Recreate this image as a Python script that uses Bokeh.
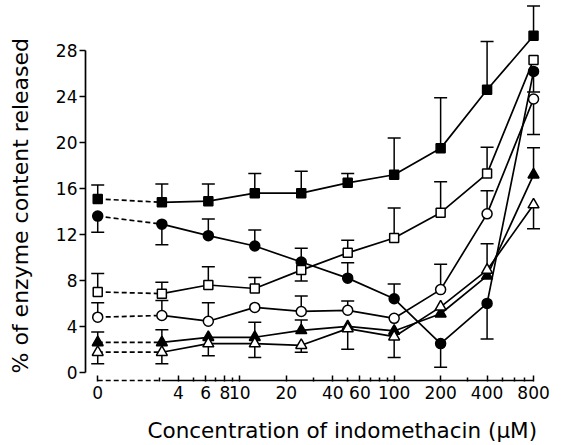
from bokeh.plotting import figure
from bokeh.models import (FixedTicker, ColumnDataSource, Whisker, TeeHead, Title,
                          LinearAxis, LogAxis)
from bokeh.embed import file_html
from bokeh.resources import INLINE

# Concentrations of indomethacin (uM); 0 is drawn on a broken log axis
conc = [0, 3.125, 6.25, 12.5, 25, 50, 100, 200, 400, 800]
ZERO_POS = 1.2  # axis position used for the "0" concentration

x_tick_values = [ZERO_POS, 4, 6, 8, 10, 20, 40, 60, 100, 200, 400, 800]
x_tick_labels = ["0", "4", "6", "8", "10", "20", "40", "60", "100", "200", "400", "800"]
x_minor_ticks = [3, 5, 7, 9, 30, 50, 70, 80, 90, 300, 500, 600, 700]
y_ticks = [0, 4, 8, 12, 16, 20, 24, 28]

x_title = "Concentration of indomethacin (μM)"
y_title = "% of enzyme content released"

# filled squares
sq_filled = [15.1, 14.8, 14.9, 15.6, 15.6, 16.5, 17.2, 19.5, 24.6, 29.3]
sq_filled_up = [1.2, 1.6, 1.5, 1.7, 1.9, 0.8, 3.2, 4.4, 4.2, 2.6]
sq_filled_dn = [0, 0, 0, 0, 0, 0, 0, 0, 0, 0]
# filled circles
ci_filled = [13.6, 12.9, 11.9, 11.0, 9.6, 8.2, 6.4, 2.5, 6.0, 26.2]
ci_filled_up = [0, 0, 1.45, 1.4, 1.2, 1.35, 1.3, 0, 0, 0]
ci_filled_dn = [1.4, 1.8, 0, 0, 0, 0, 0, 2.05, 3.1, 1.8]
# open squares
sq_open = [7.0, 6.85, 7.6, 7.3, 8.9, 10.4, 11.7, 13.9, 17.3, 27.2]
sq_open_up = [1.6, 1.0, 1.6, 0.95, 0, 1.1, 2.6, 2.7, 2.3, 0]
sq_open_dn = [0, 0, 0, 0, 0.95, 0, 0, 0, 0, 0]
# open circles
ci_open = [4.8, 4.95, 4.45, 5.65, 5.3, 5.4, 4.7, 7.2, 13.8, 23.8]
ci_open_up = [1.25, 1.3, 1.6, 0, 1.35, 0.8, 0, 2.2, 2.0, 0]
ci_open_dn = [0, 0, 0, 0, 0, 0, 0, 0, 0, 3.1]
# filled triangles
tr_filled = [2.6, 2.6, 3.05, 3.05, 3.65, 4.0, 3.6, 5.1, 8.4, 17.2]
tr_filled_up = [0.9, 1.1, 0, 1.3, 0.9, 0, 0, 0, 0, 2.35]
tr_filled_dn = [0, 0, 0, 0, 0, 0, 0, 0, 0, 0]
# open triangles
tr_open = [1.75, 1.75, 2.5, 2.5, 2.35, 3.8, 3.1, 5.7, 8.9, 14.6]
tr_open_up = [0, 0, 0, 0, 0, 0, 0, 0, 2.3, 0]
tr_open_dn = [1.0, 1.0, 1.05, 1.2, 0.6, 1.8, 1.8, 0, 0, 2.1]

series = [
    (sq_filled, sq_filled_up, sq_filled_dn, "square", "black", 9),
    (ci_filled, ci_filled_up, ci_filled_dn, "circle", "black", 10),
    (sq_open, sq_open_up, sq_open_dn, "square", "white", 9),
    (ci_open, ci_open_up, ci_open_dn, "circle", "white", 10),
    (tr_filled, tr_filled_up, tr_filled_dn, "triangle", "black", 11),
    (tr_open, tr_open_up, tr_open_dn, "triangle", "white", 11),
]

Y0, Y1 = -0.8, 32.2
xpos = [ZERO_POS if c == 0 else c for c in conc]

p = figure(width=560, height=445, x_axis_type="log", x_range=(1.0, 1000),
           y_range=(Y0, Y1), output_backend="svg", toolbar_location=None,
           min_border_left=85, min_border_right=12, min_border_top=2,
           min_border_bottom=64)
p.outline_line_color = None
p.grid.visible = False
p.background_fill_color = "white"

LW = 1.7
BLACK = "black"

# error bars
for vals, up, dn, marker, fill, size in series:
    xu, lo_u, hi_u, xd, lo_d, hi_d = [], [], [], [], [], []
    for x, v, e1, e2 in zip(xpos, vals, up, dn):
        if e1 > 0:
            xu.append(x); lo_u.append(v); hi_u.append(v + e1)
        if e2 > 0:
            xd.append(x); lo_d.append(v - e2); hi_d.append(v)
    if xu:
        src = ColumnDataSource(dict(x=xu, lower=lo_u, upper=hi_u))
        p.add_layout(Whisker(base="x", lower="lower", upper="upper", source=src, level="underlay",
                             line_color=BLACK, line_width=1.5,
                             upper_head=TeeHead(size=13, line_width=1.5, line_color=BLACK),
                             lower_head=None))
    if xd:
        src = ColumnDataSource(dict(x=xd, lower=lo_d, upper=hi_d))
        p.add_layout(Whisker(base="x", lower="lower", upper="upper", source=src, level="underlay",
                             line_color=BLACK, line_width=1.5,
                             lower_head=TeeHead(size=13, line_width=1.5, line_color=BLACK),
                             upper_head=None))

# lines and markers
for vals, up, dn, marker, fill, size in series:
    p.line(xpos[:2], vals[:2], line_color=BLACK, line_width=LW, line_dash="5 3")
    p.line(xpos[1:], vals[1:], line_color=BLACK, line_width=LW)
for vals, up, dn, marker, fill, size in series:
    p.scatter(xpos, vals, marker=marker, size=size, fill_color=fill,
              line_color=BLACK, line_width=1.5)

# broken x-axis line: dashed from 0 to the first concentration, then solid
AX_Y = Y0 + 0.07
p.line([ZERO_POS, conc[1]], [AX_Y, AX_Y], line_color=BLACK, line_width=LW, line_dash="5 3")
p.line([conc[1], conc[-1]], [AX_Y, AX_Y], line_color=BLACK, line_width=LW)

xa = p.xaxis[0]
xa.ticker = FixedTicker(ticks=x_tick_values, minor_ticks=x_minor_ticks)
xa.major_label_overrides = {v: t for v, t in zip(x_tick_values, x_tick_labels)}
xa.axis_line_color = None
xa.major_tick_in = 6
xa.major_tick_out = 0
xa.minor_tick_in = 4
xa.minor_tick_out = 0
xa.major_tick_line_width = 1.5
xa.minor_tick_line_width = 1.5
xa.major_label_standoff = 4
xa.major_label_text_font = "DejaVu Sans"
xa.major_label_text_font_size = "17px"
xa.major_label_text_color = BLACK

ya = p.yaxis[0]
ya.ticker = FixedTicker(ticks=y_ticks)
ya.bounds = (0, 28)
ya.axis_line_width = LW
ya.axis_line_color = BLACK
ya.major_tick_in = 0
ya.major_tick_out = 6
ya.major_tick_line_width = 1.5
ya.minor_tick_line_color = None
ya.major_label_standoff = 2
ya.major_label_text_font = "DejaVu Sans"
ya.major_label_text_font_size = "17px"
ya.major_label_text_color = BLACK


def spacer(axis_cls, at, gap):
    """Blank axis (white tick, empty label) that only opens a gap before the title."""
    return axis_cls(ticker=FixedTicker(ticks=[at]), axis_line_color=None,
                    major_tick_in=0, major_tick_out=gap, major_tick_line_color="white",
                    major_tick_line_width=1,
                    minor_tick_in=0, minor_tick_out=0, minor_tick_line_color=None,
                    major_label_standoff=0, major_label_overrides={at: ""},
                    major_label_text_font_size="1px")


p.add_layout(spacer(LogAxis, 2.0, 14), "below")
p.add_layout(spacer(LinearAxis, 0.0, 20), "left")

p.add_layout(Title(text=x_title, align="left", offset=62, standoff=0,
                   text_font="DejaVu Sans", text_font_size="21.5px",
                   text_font_style="normal", text_color=BLACK), "below")
p.add_layout(Title(text=y_title, align="left", offset=8, standoff=0,
                   text_font="DejaVu Sans", text_font_size="22px",
                   text_font_style="normal", text_color=BLACK), "left")

open("out.html", "w").write(file_html(p, INLINE))
